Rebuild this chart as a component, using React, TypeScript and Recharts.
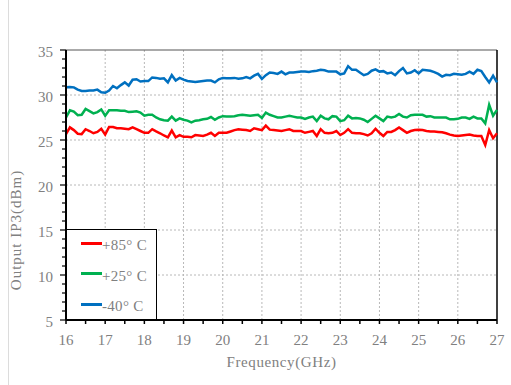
import React from 'react';
import { LineChart, Line, XAxis, YAxis, ReferenceLine, Legend } from 'recharts';

const FREQ = [
  16.0, 16.1, 16.2, 16.3, 16.4, 16.5, 16.6, 16.7, 16.8, 16.9,
  17.0, 17.1, 17.2, 17.3, 17.4, 17.5, 17.6, 17.7, 17.8, 17.9,
  18.0, 18.1, 18.2, 18.3, 18.4, 18.5, 18.6, 18.7, 18.8, 18.9,
  19.0, 19.1, 19.2, 19.3, 19.4, 19.5, 19.6, 19.7, 19.8, 19.9,
  20.0, 20.1, 20.2, 20.3, 20.4, 20.5, 20.6, 20.7, 20.8, 20.9,
  21.0, 21.1, 21.2, 21.3, 21.4, 21.5, 21.6, 21.7, 21.8, 21.9,
  22.0, 22.1, 22.2, 22.3, 22.4, 22.5, 22.6, 22.7, 22.8, 22.9,
  23.0, 23.1, 23.2, 23.3, 23.4, 23.5, 23.6, 23.7, 23.8, 23.9,
  24.0, 24.1, 24.2, 24.3, 24.4, 24.5, 24.6, 24.7, 24.8, 24.9,
  25.0, 25.1, 25.2, 25.3, 25.4, 25.5, 25.6, 25.7, 25.8, 25.9,
  26.0, 26.1, 26.2, 26.3, 26.4, 26.5, 26.6, 26.7, 26.8, 26.9,
  27.0,
];

// +85 C
const RED = [
  25.65, 26.4, 26.1, 25.7, 25.65, 26.2, 26.0, 25.75, 25.9, 26.25,
  25.6, 26.45, 26.45, 26.3, 26.3, 26.25, 26.2, 26.4, 26.2, 26.0,
  25.8, 25.8, 26.2, 25.95, 25.75, 25.5, 25.3, 26.05, 25.3, 25.55,
  25.35, 25.35, 25.3, 25.55, 25.5, 25.45, 25.6, 25.8, 25.45, 25.8,
  25.8, 25.8, 25.95, 26.1, 26.2, 26.15, 26.1, 26.0, 26.3, 26.2,
  26.1, 26.6, 26.15, 26.1, 26.05, 26.0, 26.1, 26.2, 26.0, 26.0,
  26.0, 25.8, 25.9, 26.0, 25.45, 26.2, 25.8, 25.75, 25.8, 26.0,
  25.55, 25.8, 26.2, 25.8, 25.75, 25.75, 25.65, 25.5, 25.75, 26.25,
  25.8, 25.45, 25.9, 25.9, 26.1, 26.4, 26.1, 25.8, 26.0, 26.1,
  26.15, 26.1, 26.0, 25.95, 25.95, 25.9, 25.85, 25.75, 25.6, 25.5,
  25.45, 25.5, 25.55, 25.6, 25.5, 25.45, 25.45, 24.45, 26.1, 25.2,
  25.75,
];

// +25 C
const GREEN = [
  27.5, 28.3, 28.15, 27.75, 27.8, 28.45, 28.2, 27.95, 28.1, 28.4,
  27.7, 28.3, 28.3, 28.3, 28.25, 28.25, 28.1, 28.15, 28.2, 28.05,
  27.7, 27.8, 27.8, 27.5, 27.3, 27.2, 27.15, 27.6, 27.15, 27.4,
  27.25, 27.15, 26.95, 27.15, 27.2, 27.3, 27.35, 27.55, 27.25, 27.5,
  27.65, 27.6, 27.6, 27.65, 27.75, 27.8, 27.75, 27.7, 27.75, 27.8,
  27.45, 28.05, 27.8, 27.65, 27.5, 27.5, 27.6, 27.7, 27.6, 27.5,
  27.5, 27.35, 27.5, 27.6, 27.1, 27.7, 27.4, 27.3, 27.65, 27.6,
  27.1, 27.2, 27.7, 27.4, 27.45, 27.4, 27.25, 27.0, 27.35, 27.7,
  27.4, 27.1, 27.6, 27.5, 27.6, 27.9, 27.6, 27.5, 27.75, 27.8,
  27.8, 27.8, 27.6, 27.65, 27.5, 27.5, 27.5, 27.5, 27.3, 27.3,
  27.35, 27.5, 27.5, 27.35, 27.6, 27.4, 27.4, 26.85, 28.9, 27.7,
  28.35,
];

// -40 C
const BLUE = [
  30.85, 30.9, 30.85, 30.6, 30.45, 30.45, 30.5, 30.5, 30.6, 30.3,
  30.25, 30.5, 31.0, 30.75, 31.1, 31.4, 31.05, 31.7, 31.75, 31.5,
  31.55, 31.55, 31.95, 31.9, 31.8, 31.85, 31.4, 32.2, 31.6, 31.9,
  31.7, 31.55, 31.5, 31.45, 31.5, 31.55, 31.6, 31.6, 31.4, 31.75,
  31.9, 31.85, 31.85, 31.9, 31.8, 31.85, 32.0, 31.85, 32.15, 32.35,
  31.8, 32.2, 32.5, 32.45, 32.35, 32.6, 32.3, 32.5, 32.5, 32.55,
  32.6, 32.6, 32.55, 32.65, 32.7, 32.8, 32.75, 32.6, 32.6, 32.6,
  32.3, 32.4, 33.2, 32.8, 32.8, 32.5, 32.2, 32.35, 32.7, 32.85,
  32.6, 32.65, 32.4, 32.5, 32.2, 32.65, 33.0, 32.4, 32.5, 32.75,
  32.4, 32.8, 32.75, 32.7, 32.55, 32.35, 32.05, 32.25, 32.2, 32.35,
  32.3, 32.25, 32.35, 32.6, 32.35, 32.8, 32.65, 32.0, 31.4, 32.15,
  31.4,
];

const X_TICKS = [16, 16.5, 17, 17.5, 18, 18.5, 19, 19.5, 20, 20.5, 21, 21.5, 22, 22.5, 23, 23.5, 24, 24.5, 25, 25.5, 26, 26.5, 27];
const Y_TICKS = [5, 6, 7, 8, 9, 10, 11, 12, 13, 14, 15, 16, 17, 18, 19, 20, 21, 22, 23, 24, 25, 26, 27, 28, 29, 30, 31, 32, 33, 34, 35];
const X_GRID = [17, 18, 19, 20, 21, 22, 23, 24, 25, 26];
const Y_GRID = [10, 15, 20, 25, 30];

const SERIES = [
  { key: 'red', name: '+85° C', color: '#ff0000' },
  { key: 'green', name: '+25° C', color: '#00b050' },
  { key: 'blue', name: '-40° C', color: '#0070c0' },
];

const data = FREQ.map((f, i) => ({ f, red: RED[i], green: GREEN[i], blue: BLUE[i] }));

const FONT = '"Liberation Serif", "DejaVu Serif", serif';
const TEXT = '#808080';
const GRID = '#b8b8b8';

const XTick = (props: any) => {
  const { x, y, payload } = props;
  const major = Number.isInteger(payload.value);
  return (
    <g>
      <line x1={x} x2={x} y1={y} y2={y + 4} stroke="#000" strokeWidth={1.5} />
      {major && (
        <text x={x} y={y + 25} textAnchor="middle" fill={TEXT} fontSize={15} fontFamily={FONT}>
          {payload.value}
        </text>
      )}
    </g>
  );
};

const YTick = (props: any) => {
  const { x, y, payload } = props;
  const major = payload.value % 5 === 0;
  return (
    <g>
      <line x1={x} x2={x - (major ? 6 : 4)} y1={y} y2={y} stroke="#000" strokeWidth={1.2} />
      {major && (
        <text x={x - 13} y={y + 7} textAnchor="end" fill={TEXT} fontSize={15} fontFamily={FONT}>
          {payload.value}
        </text>
      )}
    </g>
  );
};

const LegendBox = () => (
  <div
    style={{
      position: 'relative',
      width: 91,
      height: 91,
      boxSizing: 'border-box',
      border: '1.5px solid #000',
      background: '#fff',
    }}
  >
    {SERIES.map((s, i) => (
      <React.Fragment key={s.key}>
        <span
          style={{
            position: 'absolute',
            left: 14,
            top: 11.5 + i * 30.5,
            width: 21,
            height: 3,
            background: s.color,
          }}
        />
        <span
          style={{
            position: 'absolute',
            left: 35,
            top: 7 + i * 30.5,
            fontFamily: FONT,
            fontSize: 15,
            lineHeight: '17px',
            color: TEXT,
            whiteSpace: 'nowrap',
            letterSpacing: 0.3,
          }}
        >
          {s.name}
        </span>
      </React.Fragment>
    ))}
  </div>
);

export default function App() {
  return (
    <div style={{ position: 'absolute', left: 0, top: 0, width: 511, height: 385, background: '#fff' }}>
      <div style={{ position: 'absolute', left: 8, top: 0, width: 1, height: 385, background: '#dcdcdc' }} />
      <LineChart width={511} height={385} data={data} margin={{ top: 50, right: 14, bottom: 35, left: 0 }}>
        {X_GRID.map((v) => (
          <ReferenceLine key={`gx${v}`} x={v} stroke={GRID} strokeDasharray="2 2" />
        ))}
        {Y_GRID.map((v) => (
          <ReferenceLine key={`gy${v}`} y={v} stroke={GRID} strokeDasharray="2 2" />
        ))}
        <ReferenceLine y={35} stroke="#555" strokeWidth={1} />
        <ReferenceLine x={27} stroke="#000" strokeWidth={1.5} />
        <XAxis
          dataKey="f"
          type="number"
          domain={[16, 27]}
          ticks={X_TICKS}
          interval={0}
          tickSize={0}
          tickMargin={0}
          tickLine={false}
          tick={<XTick />}
          height={30}
          axisLine={{ stroke: '#000', strokeWidth: 2 }}
          label={{
            content: (p: any) => (
              <text
                x={p.viewBox.x + p.viewBox.width / 2}
                y={367}
                textAnchor="middle"
                fill={TEXT}
                fontSize={15}
                fontFamily={FONT}
                letterSpacing={0.6}
              >
                Frequency(GHz)
              </text>
            ),
          }}
        />
        <YAxis
          type="number"
          domain={[5, 35]}
          ticks={Y_TICKS}
          interval={0}
          width={66}
          tickSize={0}
          tickMargin={0}
          tickLine={false}
          tick={<YTick />}
          axisLine={{ stroke: '#000', strokeWidth: 2 }}
          label={{
            content: () => (
              <text
                x={21}
                y={230}
                transform="rotate(-90 21 230)"
                textAnchor="middle"
                fill={TEXT}
                fontSize={15}
                fontFamily={FONT}
                letterSpacing={1}
              >
                Output IP3(dBm)
              </text>
            ),
          }}
        />
        {SERIES.map((s) => (
          <Line
            key={s.key}
            dataKey={s.key}
            name={s.name}
            stroke={s.color}
            strokeWidth={2.5}
            dot={false}
            activeDot={false}
            isAnimationActive={false}
          />
        ))}
        <Legend
          layout="horizontal"
          verticalAlign="middle"
          align="center"
          content={<LegendBox />}
          wrapperStyle={{ left: 66, top: 229, width: 91, height: 91 }}
        />
      </LineChart>
    </div>
  );
}
